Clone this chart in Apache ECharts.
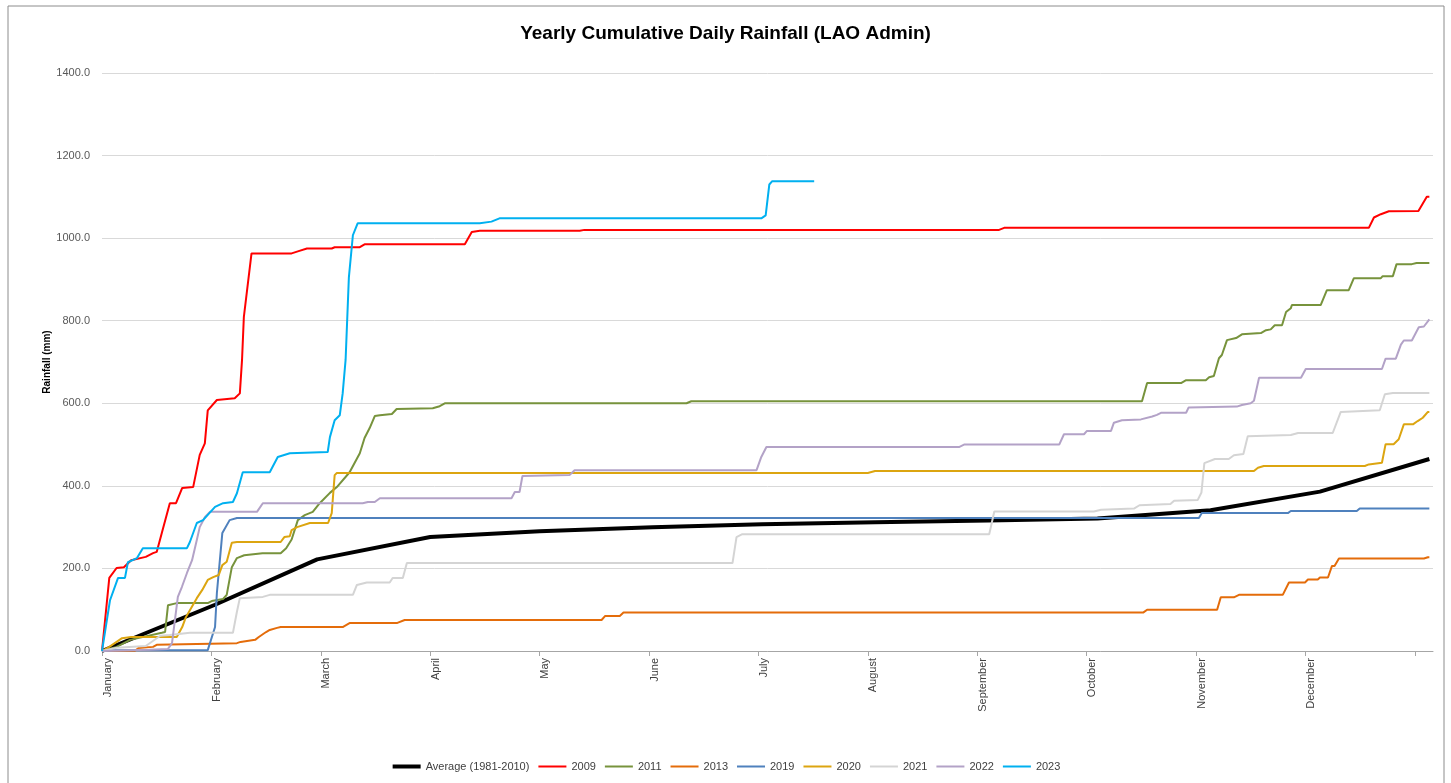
<!DOCTYPE html>
<html>
<head>
<meta charset="utf-8">
<title>Yearly Cumulative Daily Rainfall</title>
<script src="https://cdn.jsdelivr.net/npm/echarts@6/dist/echarts.min.js"></script>
<style>
  html, body { margin: 0; padding: 0; background: #fff; }
  #chart { width: 1451px; height: 783px; }
</style>
</head>
<body>
<div id="chart"></div>
<script>
// month labels, one every 30 days on the day axis
var months = ['January','February','March','April','May','June','July','August','September','October','November','December'];
var yTicks = [0, 200, 400, 600, 800, 1000, 1200, 1400];

// [day of year, cumulative rainfall mm]
var avg = [[0,0],[31,112],[59,222],[90,276],[120,290],[151,300],[181,307],[212,312],[243,316],[273,321],[304,341],[334,386],[364,465]];

var y2009 = [[0,0],[2,177],[4,201],[6,203],[8,220],[12,228],[14,237],[15,240],[16.4,286],[18.6,358],[20.3,358],[22,395],[25,397],[26.8,475],[28.2,503],[29,583],[31.5,608],[36.4,612],[37.8,624],[38.4,705],[38.9,809],[41,963],[52,963],[53.7,968],[56.2,975],[63,975],[63.8,978],[70.7,978],[72,985],[99.5,985],[101.4,1015],[103.6,1018],[131,1018],[132.3,1020],[246,1020],[247.4,1025],[347.4,1025],[348.8,1050],[350.7,1058],[352.9,1065],[361,1066],[363.3,1100],[364,1100]];

var y2011 = [[0,0],[4,10],[7.7,27],[16.4,44],[17.3,46],[18.1,111],[20.5,116],[29,116],[30.1,121],[33.2,126],[34.2,136],[35.6,203],[37,225],[39,232],[44,237],[49,237],[50.5,249],[52,270],[53.7,317],[55.6,329],[57.8,337],[59.7,358],[62.5,383],[64.4,397],[67.9,433],[70.7,479],[72,516],[73.4,540],[74.8,569],[76.2,571],[79.5,574],[80.8,586],[90.7,588],[92.6,593],[94,600],[160.3,600],[161.6,605],[285.2,605],[286.6,649],[295.9,649],[297.3,656],[302.7,656],[303.6,663],[304.9,666],[306.3,709],[307.1,717],[308.5,753],[311,758],[312.6,767],[317.8,770],[319.2,777],[320.5,779],[321.6,789],[323.6,789],[324.7,821],[326,830],[326.3,838],[334.2,838],[335.9,874],[341.9,874],[343.3,903],[350.7,903],[351.2,908],[354,908],[355,937],[359.2,937],[360.5,940],[364,940]];

var y2013 = [[0,0],[9,0],[10,7],[14,10],[15,15],[37,19],[38,22],[42,27],[43,34],[45,46],[46,51],[48,56],[49,58],[66,58],[68,68],[81,68],[83,75],[137,75],[138,85],[142,85],[143,93],[285.5,93],[286.6,100],[305.8,100],[306.8,130],[310.4,130],[311.8,136],[323.8,136],[325.5,166],[329.9,166],[330.7,173],[333.4,173],[334,178],[336.2,178],[337.3,206],[338,206],[339.2,224],[362.5,224],[363.6,227],[364,227]];

var y2019 = [[0,0],[3,2],[29,2],[31,58],[31.5,140],[33,286],[35,317],[37,322],[300.8,322],[301.6,334],[325.2,334],[326,339],[344.1,339],[344.9,345],[364,345]];

var y2020 = [[0,0],[2,10],[5.5,31],[8,34],[20.5,34],[22,58],[23,82],[26,128],[27.5,148],[29,172],[30.5,179],[32,184],[33,208],[34.2,216],[35.6,262],[37,264],[49,264],[50,276],[51.5,278],[52,293],[53.5,300],[57,310],[62,310],[63,334],[63.8,426],[64.4,431],[210,431],[212,436],[315.9,436],[317,444],[318.6,448],[346.3,448],[347.4,452],[351,456],[352,501],[354.2,501],[355.6,513],[357,549],[359.5,549],[360.8,557],[362.2,565],[363.6,579],[364,579]];

var y2021 = [[0,0],[4,8],[12,12],[16,37],[18.6,39],[24.1,44],[35.9,44],[37,95],[37.8,128],[44.1,131],[46,136],[68.8,136],[69.9,160],[72.6,166],[78.9,166],[79.7,177],[82.5,177],[83.6,213],[172.9,213],[174,276],[175.6,283],[243.3,283],[244.7,338],[272,338],[274,342],[283,345],[284.5,353],[293,356],[294,364],[300.5,366],[301.5,384],[302.3,455],[305.2,465],[309,465],[310.4,474],[313,477],[314.2,520],[326,523],[328,528],[337.5,528],[339.7,579],[350.4,583],[351.8,622],[354,625],[364,625]];

var y2022 = [[0,0],[13,3],[18.1,5],[19.2,19],[20.8,131],[21.9,155],[23.3,189],[24.7,220],[26,269],[26.8,300],[28.2,324],[29.6,337],[42.5,337],[44.1,358],[71.5,358],[72.9,361],[74.8,361],[76.2,370],[112.3,370],[113.2,385],[114.5,385],[115.3,424],[128.2,426],[129.6,438],[179.5,438],[180.8,470],[182.2,494],[235,494],[236.4,500],[262.5,500],[263.8,525],[269.3,525],[270.1,533],[276.7,533],[277.5,553],[279.7,559],[284.9,561],[288,568],[289.3,572],[290.4,577],[297.3,577],[298,590],[311.2,592],[312.6,596],[315,600],[315.9,606],[317.3,662],[328.8,662],[330.1,683],[351,683],[352,708],[354.8,708],[356.2,742],[357,752],[359.2,752],[361.1,784],[362.5,786],[364,803]];

var y2023 = [[0,0],[2.2,123],[4.4,177],[6.3,177],[7.1,215],[9.6,225],[11.2,249],[23.3,249],[24.1,264],[26,310],[27.7,317],[31,349],[33.2,358],[35.9,361],[37,382],[38.6,433],[46,433],[48.2,470],[51.5,479],[61.9,482],[62.5,518],[63.8,559],[65.2,571],[66,624],[66.8,705],[67.7,905],[68.8,1007],[70.1,1036],[103.6,1036],[106.8,1040],[109,1048],[180.8,1048],[182,1055],[183,1130],[183.8,1138],[195.3,1138]];

var seriesNames = ['Average (1981-2010)','2009','2011','2013','2019','2020','2021','2022','2023'];
var seriesData = [avg, y2009, y2011, y2013, y2019, y2020, y2021, y2022, y2023];
var seriesColors = ['#000000','#FF0000','#77933C','#E46C0A','#4F81BD','#DCA510','#D4D4D4','#B3A2C7','#00B0F0'];

var chart = echarts.init(document.getElementById('chart'));

var series = [];
var legendData = [];
for (var i = 0; i < seriesNames.length; i++) {
	var w = i == 0 ? 4 : 2;
	series.push({
		name: seriesNames[i],
		type: 'line',
		data: seriesData[i],
		symbol: 'none',
		color: seriesColors[i],
		lineStyle: { width: w, color: seriesColors[i] }
	});
	legendData.push({ name: seriesNames[i], lineStyle: { width: w } });
}

chart.setOption({
	animation: false,
	backgroundColor: '#fff',
	textStyle: { fontFamily: 'Liberation Sans, Arial, sans-serif' },
	title: {
		text: 'Yearly Cumulative Daily Rainfall (LAO Admin)',
		left: 'center',
		top: 19,
		textStyle: { fontSize: 19, fontWeight: 'bold', color: '#000' }
	},
	graphic: [{
		type: 'rect',
		shape: { x: 8, y: 6, width: 1436, height: 800 },
		style: { fill: 'none', stroke: '#8c8c8c', lineWidth: 1 },
		silent: true
	}],
	grid: { left: 102, right: 18, top: 73, bottom: 132 },
	legend: {
		bottom: 6,
		left: 'center',
		itemWidth: 28,
		itemHeight: 12,
		itemGap: 8,
		data: legendData,
		itemStyle: { opacity: 0 },
		textStyle: { fontSize: 11, color: '#404040' }
	},
	xAxis: {
		type: 'value',
		min: 0,
		max: 365,
		interval: 30,
		splitLine: { show: false },
		axisLine: { lineStyle: { color: '#a6a6a6' } },
		axisTick: { length: 5, lineStyle: { color: '#a6a6a6' } },
		axisLabel: {
			rotate: 90,
			fontSize: 11,
			color: '#404040',
			margin: 7,
			verticalAlign: 'top',
			showMaxLabel: false,
			formatter: function (v) { return months[v / 30] || ''; }
		}
	},
	yAxis: {
		type: 'value',
		min: yTicks[0],
		max: yTicks[yTicks.length - 1],
		interval: 200,
		name: 'Rainfall (mm)',
		nameLocation: 'middle',
		nameGap: 50,
		nameMoveOverlap: false,
		nameTextStyle: { fontSize: 10, fontWeight: 'bold', color: '#000' },
		axisLine: { show: false },
		axisTick: { show: false },
		splitLine: { lineStyle: { color: '#d9d9d9' } },
		axisLabel: {
			fontSize: 11,
			color: '#595959',
			margin: 12,
			formatter: function (v) { return v.toFixed(1); }
		}
	},
	series: series
});
</script>
</body>
</html>
